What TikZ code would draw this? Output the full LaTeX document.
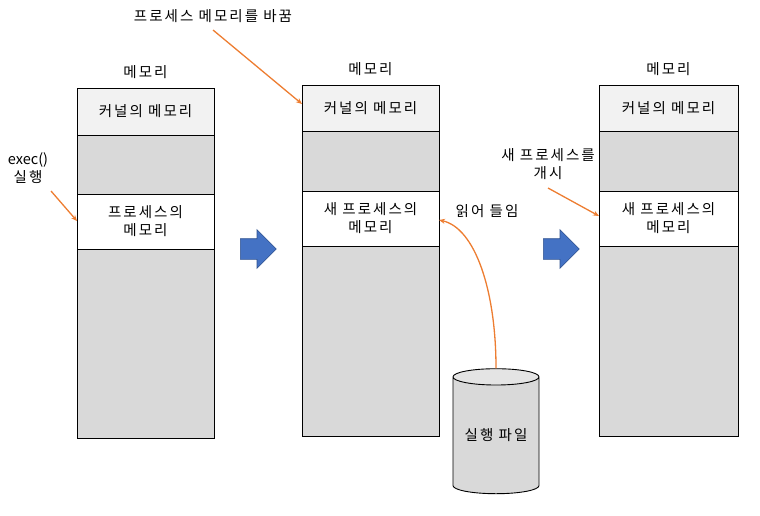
\documentclass[tikz,border=0pt]{standalone}
\usepackage{fontspec}
\setmainfont{Noto Sans CJK KR}[LetterSpace=14]
\newfontfamily\plainfont{Noto Sans CJK KR}
\usetikzlibrary{shapes.geometric,shapes.arrows,arrows.meta}
\definecolor{kern}{HTML}{F2F2F2}
\definecolor{grayrow}{HTML}{D9D9D9}
\definecolor{blueA}{HTML}{4472C4}
\definecolor{blueB}{HTML}{2F528F}
\definecolor{orangeA}{HTML}{ED7D31}
\definecolor{cylend}{HTML}{E4E4E4}
\tikzset{
  row/.style={draw=black, line width=0.9pt, anchor=north west, inner sep=0pt, outer sep=0pt,
    minimum width=#1, align=center, font=\fontsize{14.5}{18}\selectfont},
  lbl/.style={inner sep=1pt, align=center, font=\fontsize{14.5}{17.5}\selectfont},
  oarrow/.style={draw=orangeA, line width=1.3pt, -{Stealth[length=6pt,width=5pt]}},
  barrow/.style={single arrow, draw=blueB, fill=blueA, line width=0.6pt, minimum height=36pt,
    inner xsep=0pt, inner ysep=10pt, single arrow head extend=9pt, shape border uses incircle=false, anchor=west}
}
\begin{document}
\begin{tikzpicture}[x=1pt,y=-1pt]
\useasboundingbox (0,0) rectangle (760,515);
% column 1
\node[row=137pt, fill=kern, minimum height=47pt] (k1) at (77,88) {커널의 메모리};
\node[row=137pt, fill=grayrow, minimum height=59pt] (g1) at (77,135) {};
\node[row=137pt, fill=white, minimum height=55pt] (p1) at (77,194) {프로세스의\\메모리};
\node[row=137pt, fill=grayrow, minimum height=189pt] (h1) at (77,249) {};
\node[lbl] (t1) at (145.5,72) {메모리};
% column 2
\node[row=137pt, fill=kern, minimum height=46pt] (k2) at (302,85) {커널의 메모리};
\node[row=137pt, fill=grayrow, minimum height=60pt] (g2) at (302,131) {};
\node[row=137pt, fill=white, minimum height=55pt] (p2) at (302,191) {새 프로세스의\\메모리};
\node[row=137pt, fill=grayrow, minimum height=190pt] (h2) at (302,246) {};
\node[lbl] (t2) at (370.5,69) {메모리};
% column 3
\node[row=139pt, fill=kern, minimum height=46pt] (k3) at (599,85) {커널의 메모리};
\node[row=139pt, fill=grayrow, minimum height=60pt] (g3) at (599,131) {};
\node[row=139pt, fill=white, minimum height=55pt] (p3) at (599,191) {새 프로세스의\\메모리};
\node[row=139pt, fill=grayrow, minimum height=190pt] (h3) at (599,246) {};
\node[lbl] (t3) at (668.5,69) {메모리};
% block arrows
\node[barrow] (a1) at (240,249) {};
\node[barrow] (a2) at (543,249) {};
% cylinder
\node[cylinder, shape border rotate=90, aspect=0.26, draw=black, line width=0.9pt,
  minimum width=86pt, minimum height=125pt, cylinder uses custom fill,
  cylinder body fill=grayrow, cylinder end fill=cylend, inner sep=0pt,
  font=\fontsize{14.5}{18}\selectfont] (cyl) at (496,435.5) {실행 파일};
% labels
\node[lbl] (lt) at (213,16) {프로세스 메모리를 바꿈};
\node[lbl] (le) at (28,168) {{\plainfont exec()}\\실행};
\node[lbl] (lr) at (487,211) {읽어 들임};
\node[lbl] (ln) at (548,164) {새 프로세스를\\개시};
% orange arrows
\coordinate (lts) at (213,30);
\coordinate (les) at (51,191);
\coordinate (lns) at (548,188);
\draw[oarrow] (lts) -- (k2.west |- 0,104);
\draw[oarrow] (les) -- (p1.west |- 0,221);
\draw[oarrow] (lns) -- (p3.west |- 0,216);
\draw[oarrow] (cyl.top) .. controls (496,290) and (475,228) .. (p2.east |- 0,220);
\end{tikzpicture}
\end{document}
